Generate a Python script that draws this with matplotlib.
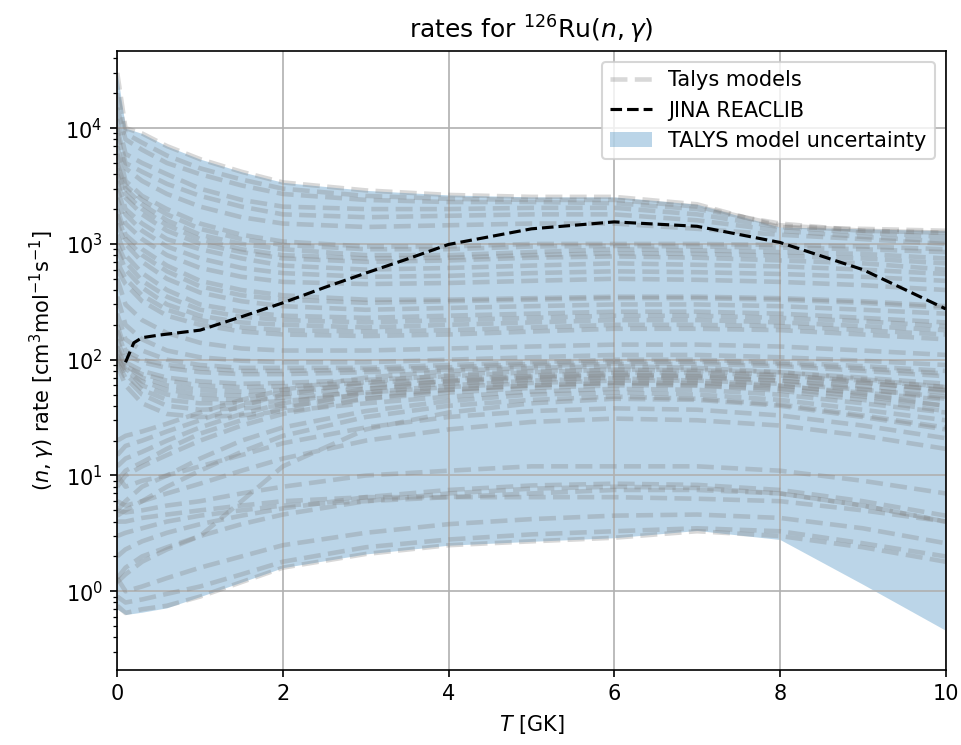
import numpy as np
import matplotlib
matplotlib.use("Agg")
import matplotlib.pyplot as plt

# temperature grid [GK] the Talys rates are read on
T = [0.0001, 0.1, 0.3, 0.6, 1.0, 1.5, 2.0, 3.0, 4.0, 5.0, 6.0, 7.0, 8.0, 9.0, 10.0]

# Talys models, grouped by how they look on the plot
talys_upper = [
    [30000, 10000, 9000, 7000, 5400, 4200, 3400, 2900, 2650, 2550, 2550, 2200, 1400, 1350, 1300],
    [20000, 9000, 7500, 5800, 4500, 3600, 3000, 2600, 2450, 2400, 2400, 2100, 1450, 1300, 1250],
    [15000, 8000, 6500, 5000, 4000, 3200, 2700, 2400, 2300, 2300, 2250, 2000, 1500, 1300, 1250],
    [12000, 6000, 5000, 4000, 3000, 2400, 2100, 2000, 2000, 2050, 2050, 1800, 1400, 1250, 1150],
    [10000, 5000, 4200, 3300, 2600, 2100, 1800, 1700, 1750, 1800, 1800, 1600, 1300, 1150, 1050],
    [9000, 4500, 3500, 2700, 2100, 1700, 1500, 1400, 1450, 1500, 1500, 1350, 1200, 1100, 1000],
    [7000, 3500, 2600, 2000, 1500, 1200, 1050, 950, 950, 1000, 1000, 1000, 980, 950, 900],
    [6000, 3200, 2400, 1800, 1350, 1100, 980, 900, 900, 950, 960, 950, 930, 900, 850],
    [5000, 3000, 2200, 1600, 1200, 1000, 900, 800, 800, 850, 900, 880, 850, 820, 750],
    [4500, 2700, 2000, 1450, 1100, 900, 800, 750, 760, 800, 830, 820, 790, 750, 680],
    [4000, 2500, 1800, 1300, 1000, 850, 750, 700, 720, 760, 780, 760, 720, 680, 600],
    [3500, 2000, 1500, 1100, 900, 750, 650, 600, 620, 650, 680, 660, 640, 600, 550],
    [3000, 1800, 1300, 950, 750, 620, 560, 520, 530, 560, 580, 570, 550, 520, 480],
    [2500, 1500, 1100, 800, 620, 520, 470, 450, 460, 480, 500, 490, 470, 440, 400],
]
talys_mid = [
    [2000, 1200, 900, 650, 480, 400, 360, 330, 330, 340, 350, 350, 340, 320, 290],
    [1800, 1100, 800, 580, 430, 360, 330, 310, 320, 330, 340, 340, 330, 310, 280],
    [1500, 1000, 700, 500, 380, 320, 290, 270, 280, 290, 300, 300, 290, 270, 250],
    [1200, 800, 560, 400, 300, 260, 240, 230, 240, 250, 260, 260, 250, 230, 210],
    [1000, 700, 480, 350, 270, 235, 220, 210, 220, 230, 240, 240, 230, 215, 195],
    [900, 600, 420, 300, 240, 210, 200, 190, 200, 210, 220, 220, 210, 195, 180],
    [700, 500, 360, 270, 220, 190, 180, 175, 180, 190, 200, 200, 195, 180, 165],
    [600, 450, 320, 240, 200, 175, 165, 160, 165, 175, 185, 185, 180, 165, 150],
    [500, 300, 220, 170, 140, 125, 120, 120, 125, 130, 135, 135, 130, 120, 110],
    [350, 200, 150, 120, 105, 98, 95, 95, 100, 105, 110, 110, 105, 98, 90],
    [250, 150, 120, 100, 90, 85, 85, 85, 90, 95, 100, 100, 95, 88, 80],
    [200, 120, 100, 90, 84, 80, 80, 82, 86, 92, 96, 96, 92, 84, 76],
    [180, 110, 95, 85, 78, 75, 75, 78, 82, 88, 92, 92, 88, 80, 72],
    [150, 95, 80, 70, 65, 62, 63, 67, 72, 78, 82, 82, 78, 70, 62],
    [130, 88, 75, 66, 60, 58, 59, 63, 68, 73, 77, 77, 73, 66, 58],
    [120, 90, 70, 60, 55, 53, 55, 60, 65, 70, 73, 73, 70, 63, 55],
    [110, 80, 65, 55, 50, 49, 51, 56, 62, 67, 70, 70, 66, 59, 52],
    [105, 75, 55, 45, 42, 42, 44, 50, 55, 60, 63, 63, 59, 52, 45],
    [100, 85, 60, 50, 46, 45, 47, 52, 58, 63, 66, 66, 62, 55, 48],
    [95, 70, 50, 40, 37, 38, 40, 46, 52, 57, 60, 60, 56, 48, 40],
    [90, 60, 42, 34, 32, 33, 36, 42, 48, 53, 56, 55, 50, 42, 35],
]
talys_rising = [
    [20, 22, 24, 28, 35, 45, 55, 70, 80, 85, 88, 85, 78, 68, 58],
    [15, 18, 20, 24, 30, 40, 50, 64, 74, 80, 82, 80, 74, 64, 54],
    [12, 14, 16, 20, 26, 34, 42, 56, 66, 72, 75, 72, 66, 56, 46],
    [9, 11, 13, 17, 23, 30, 38, 52, 60, 66, 69, 66, 60, 50, 40],
    [8, 10, 12, 15, 20, 27, 34, 46, 55, 60, 63, 60, 54, 45, 36],
    [5, 6, 8, 10, 14, 20, 26, 36, 44, 50, 52, 50, 45, 37, 30],
    [4.5, 5, 6, 8, 11, 16, 22, 32, 40, 45, 48, 46, 41, 33, 26],
    [1.3, 1.6, 2, 2.4, 3, 6, 12, 25, 35, 42, 46, 45, 40, 32, 25],
    [10, 8, 9, 10, 12, 15, 19, 26, 32, 36, 38, 37, 33, 27, 21],
    [6, 5.5, 6, 7, 8.5, 11, 14, 20, 25, 29, 31, 30, 27, 22, 17],
]
talys_low = [
    [5, 4.8, 5, 5.5, 6, 7, 8, 10, 11, 12, 12, 12, 11, 9, 7],
    [4, 4, 4.3, 4.6, 5, 5.5, 6, 6.5, 6.5, 6.5, 6.5, 6.3, 6, 5, 4],
    [3, 3.2, 3.5, 4, 4.5, 5, 5.5, 6, 6.5, 7, 7.5, 7.5, 7, 5.5, 4],
    [2, 2.3, 2.7, 3.2, 3.8, 4.5, 5.2, 6.5, 7.5, 8.2, 8.5, 8.3, 7.5, 6, 4.5],
    [1.2, 1.4, 1.8, 2.3, 3, 3.8, 4.6, 6, 7, 7.7, 8, 7.8, 7, 5.5, 4],
    [0.75, 0.65, 0.7, 0.75, 0.9, 1.2, 1.6, 2.1, 2.5, 2.7, 2.9, 3.3, 3.0, 2.4, 1.8],
    [0.9, 0.8, 0.85, 0.95, 1.1, 1.4, 1.8, 2.4, 2.8, 3.1, 3.3, 3.5, 3.3, 2.6, 2.0],
    [1.3, 1.0, 1.1, 1.3, 1.6, 2.0, 2.5, 3.2, 3.8, 4.2, 4.5, 4.6, 4.3, 3.5, 2.6],
]

# uncertainty band edges on the same grid
band_low = [0.7, 0.63, 0.66, 0.72, 0.9, 1.2, 1.6, 2.1, 2.5, 2.7, 2.9, 3.35, 2.8, 1.15, 0.46]
band_high = [30000, 10000, 9000, 7000, 5400, 4200, 3400, 2900, 2650, 2550, 2550, 2200, 1400, 1350, 1300]

# JINA REACLIB rate
T_jina = [0.1, 0.2, 0.3, 0.5, 1.0, 1.5, 2.0, 2.5, 3.0, 3.5, 4.0, 5.0, 6.0, 7.0, 8.0, 9.0, 10.0]
rate_jina = [95, 140, 155, 163, 180, 235, 310, 420, 560, 740, 990, 1350, 1550, 1420, 1030, 600, 275]

fig, ax = plt.subplots(figsize=(961 / 150, 745 / 150), dpi=150)
fig.subplots_adjust(left=0.122, right=0.984, bottom=0.101, top=0.931)

first = True
for group in (talys_upper, talys_mid, talys_rising, talys_low):
    for rate in group:
        ax.plot(T, rate, ls="--", lw=2.2, color="grey", alpha=0.3,
                label="Talys models" if first else None)
        first = False

ax.plot(T_jina, rate_jina, "k--", lw=1.5, label="JINA REACLIB")
ax.fill_between(T, band_low, band_high, color="tab:blue", alpha=0.3, lw=0,
                label="TALYS model uncertainty")

ax.set_yscale("log")
ax.set_xlim(0, 10)
ax.set_ylim(0.21, 4.6e4)
ax.grid(True)
ax.set_title(r"rates for $^{126}$Ru$(n,\gamma)$")
ax.set_xlabel(r"$T$ [GK]")
ax.set_ylabel(r"$(n,\gamma)$ rate [cm$^3$mol$^{-1}$s$^{-1}$]")
ax.legend(loc="upper right")

fig.savefig("out.png", dpi=150)
